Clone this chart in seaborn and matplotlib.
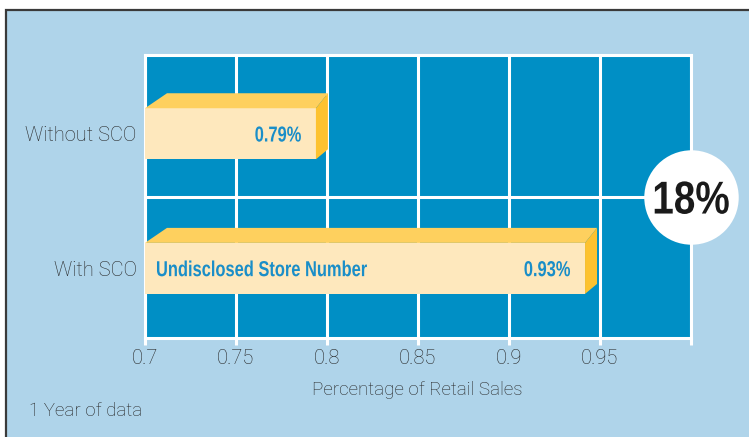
import matplotlib
matplotlib.use("Agg")
import pandas as pd
import matplotlib.pyplot as plt
from matplotlib.patches import Polygon, Rectangle, PathPatch
from matplotlib.textpath import TextPath
from matplotlib.font_manager import FontProperties
from matplotlib.path import Path
import seaborn as sns

# values
categories = ["Without SCO", "With SCO"]
bar_ends = [0.794, 0.942]          # where the front face of each bar stops
value_labels = ["0.79%", "0.93%"]
inner_labels = ["", "Undisclosed Store Number"]
ticks = [0.7, 0.75, 0.8, 0.85, 0.9, 0.95, 1.0]
tick_labels = ["0.7", "0.75", "0.8", "0.85", "0.9", "0.95", ""]
badge = "18%"
footnote = "1 Year of data"

# colours
PANEL = "#afd4ea"
PLOT_BLUE = "#008fc5"
FRONT = "#fee8bd"
TOP = "#fed05e"
SIDE = "#fdc22f"
TXT_BLUE = "#1a8ec8"
DARK = "#262626"

sns.set_style("white")
light = ["Roboto", "DejaVu Sans"]
plt.rcParams["font.family"] = light
bold_fp = FontProperties(family=["Liberation Sans", "DejaVu Sans"], weight="bold")


def condensed_text(ax, xy, s, cap_px, color, ha="left", dx_px=0, stretch=0.76, zorder=4):
    """Bold text squeezed horizontally (no condensed font installed)."""
    px = ax.figure.dpi / 100
    tp = TextPath((0, 0), s, size=cap_px * px / 0.716, prop=bold_fp)
    verts = tp.vertices.copy()
    verts[:, 0] *= stretch
    xmin, xmax = verts[:, 0].min(), verts[:, 0].max()
    X, Y = ax.transData.transform(xy)
    if ha == "right":
        X -= xmax
    elif ha == "center":
        X -= (xmin + xmax) / 2
    verts[:, 0] += X + dx_px * px
    verts[:, 1] += Y - cap_px * px / 2
    data_verts = ax.transData.inverted().transform(verts)
    ax.add_patch(PathPatch(Path(data_verts, tp.codes), fc=color, lw=0,
                           zorder=zorder, clip_on=False))


df = pd.DataFrame({"category": categories, "value": bar_ends})

fig = plt.figure(figsize=(7.49, 4.37), dpi=100)
fig.patch.set_facecolor("white")
# light blue panel with dark frame (cut off at right and bottom)
fig.patches.append(Rectangle((6 / 749, -0.1), 1.2, 1.1 - 9.5 / 437,
                             transform=fig.transFigure, fc=PANEL,
                             ec="#3a3a3a", lw=1.6, zorder=-5))

ax = fig.add_axes([145 / 749, 1 - 338 / 437, (690.5 - 145) / 749, 283 / 437])
ax.set_facecolor(PLOT_BLUE)

sns.barplot(data=df, x="value", y="category", orient="h", color=FRONT,
            width=0.379, saturation=1, linewidth=0, ax=ax, zorder=3)

ax.set_xlim(0.7, 1.0)
ax.set_ylim(1.517, -0.585)

# grid, spines, ticks
ax.set_xticks(ticks, tick_labels)
ax.set_axisbelow(True)
ax.grid(axis="x", color="white", lw=2.2)
ax.grid(axis="y", visible=False)
ax.axhline(0.47, color="white", lw=2.2, zorder=1)
for s in ax.spines.values():
    s.set_visible(True)
    s.set_color("white")
    s.set_linewidth(2.2)
ax.tick_params(axis="x", length=5, width=2.2, color="white", labelcolor=DARK,
               labelsize=14.5, pad=3, bottom=True)
ax.tick_params(axis="y", length=0, labelcolor=DARK, labelsize=14.5, pad=6)
for lbl in ax.get_xticklabels() + ax.get_yticklabels():
    lbl.set_fontweight("light")
ax.set_xlabel("Percentage of Retail Sales", fontsize=13.5, color=DARK,
              fontweight="light", labelpad=9)
ax.set_ylabel("")

# 3D look: top and side faces added in pixel offsets
px = fig.dpi / 100
T = ax.transData
inv = T.inverted()
for i, p in enumerate(list(ax.patches)):
    x0 = max(p.get_x(), ax.get_xlim()[0])
    x1 = p.get_x() + p.get_width()
    ya, yb = p.get_y(), p.get_y() + p.get_height()
    (X0, Ya), (X1, Yb) = T.transform([(x0, ya), (x1, yb)])
    Yt, Ybot = max(Ya, Yb), min(Ya, Yb)
    top = [(X0, Yt), (X0 + 22 * px, Yt + 15 * px), (X1 + 12 * px, Yt + 15 * px), (X1, Yt)]
    side = [(X1, Yt), (X1 + 12 * px, Yt + 15 * px), (X1 + 12 * px, Ybot + 10 * px), (X1, Ybot)]
    ax.add_patch(Polygon(inv.transform(top), closed=True, fc=TOP, lw=0, zorder=3))
    ax.add_patch(Polygon(inv.transform(side), closed=True, fc=SIDE, lw=0, zorder=3))

    yc = p.get_y() + p.get_height() / 2
    condensed_text(ax, (x1, yc), value_labels[i], 15.5, TXT_BLUE,
                   ha="right", dx_px=-15)
    if inner_labels[i]:
        condensed_text(ax, (x0, yc), inner_labels[i], 15.5, TXT_BLUE,
                       ha="left", dx_px=11)

# white badge on the right edge
ax.scatter([1.0], [0.47], s=68 ** 2, color="white", linewidths=0,
           clip_on=False, zorder=5)
condensed_text(ax, (1.0, 0.47), badge, 33, "#1a1a1a", ha="center",
               stretch=0.84, zorder=6)

fig.text(29 / 749, 1 - 411 / 437, footnote, fontsize=13.5, color=DARK,
         fontweight="light", va="center", ha="left")

fig.savefig("out.png", dpi=100)
